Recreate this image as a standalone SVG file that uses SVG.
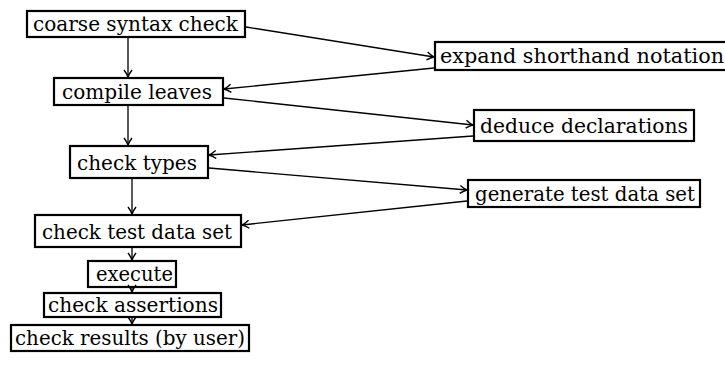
<svg xmlns="http://www.w3.org/2000/svg" width="725" height="373" viewBox="0 0 725 373">
<style>
.box{fill:#fff;stroke:#000;stroke-width:2.2}
.t{font-family:'DejaVu Serif','Liberation Serif',serif;font-size:20px;fill:#000}
.c{fill:none;stroke:#000;stroke-width:1.3;marker-end:url(#ah)}
</style>
<defs>
<marker id="ah" viewBox="-10 -6 12 12" markerWidth="12" markerHeight="12" refX="0" refY="0" orient="auto" markerUnits="userSpaceOnUse">
<path d="M -7 -4 Q -3 -1 0 0 Q -3 1 -7 4" fill="none" stroke="#000" stroke-width="1.4"/>
</marker>
</defs>
<g id="coarse">
<rect class="box" x="27" y="11" width="218" height="26"/>
<text class="t" x="33" y="31" textLength="205" lengthAdjust="spacingAndGlyphs">coarse syntax check</text>
</g>
<g id="expand">
<rect class="box" x="435" y="42" width="300" height="28"/>
<text class="t" x="440" y="63" textLength="284" lengthAdjust="spacingAndGlyphs">expand shorthand notation</text>
</g>
<g id="compile">
<rect class="box" x="54" y="78" width="169" height="27"/>
<text class="t" x="62" y="99" textLength="150" lengthAdjust="spacingAndGlyphs">compile leaves</text>
</g>
<g id="deduce">
<rect class="box" x="474" y="110" width="220" height="31"/>
<text class="t" x="480" y="133" textLength="208" lengthAdjust="spacingAndGlyphs">deduce declarations</text>
</g>
<g id="types">
<rect class="box" x="70" y="146" width="138" height="32"/>
<text class="t" x="77" y="170" textLength="120" lengthAdjust="spacingAndGlyphs">check types</text>
</g>
<g id="generate">
<rect class="box" x="468" y="180" width="232" height="27"/>
<text class="t" x="475" y="201" textLength="220" lengthAdjust="spacingAndGlyphs">generate test data set</text>
</g>
<g id="testdata">
<rect class="box" x="35" y="215" width="206" height="32"/>
<text class="t" x="42" y="239" textLength="190" lengthAdjust="spacingAndGlyphs">check test data set</text>
</g>
<g id="execute">
<rect class="box" x="88" y="261" width="88" height="26"/>
<text class="t" x="96" y="281" textLength="77" lengthAdjust="spacingAndGlyphs">execute</text>
</g>
<g id="assertions">
<rect class="box" x="44" y="293" width="177" height="24"/>
<text class="t" x="48" y="312" textLength="170" lengthAdjust="spacingAndGlyphs">check assertions</text>
</g>
<g id="results">
<rect class="box" x="11" y="325" width="238" height="26"/>
<text class="t" x="15" y="345" textLength="230" lengthAdjust="spacingAndGlyphs">check results (by user)</text>
</g>
<g id="connectors">
<line class="c" x1="128" y1="38" x2="128" y2="77"/>
<line class="c" x1="128" y1="106" x2="128" y2="145"/>
<line class="c" x1="132" y1="179" x2="132" y2="214"/>
<line class="c" x1="132" y1="248" x2="132" y2="260"/>
<line class="c" x1="132" y1="288" x2="132" y2="292"/>
<line class="c" x1="132" y1="318" x2="132" y2="324"/>
<line class="c" x1="246" y1="27" x2="434" y2="57"/>
<line class="c" x1="434" y1="68" x2="224" y2="89"/>
<line class="c" x1="224" y1="98" x2="473" y2="125"/>
<line class="c" x1="473" y1="136" x2="209" y2="155"/>
<line class="c" x1="209" y1="168" x2="467" y2="190"/>
<line class="c" x1="467" y1="201" x2="242" y2="225"/>
</g>
</svg>
